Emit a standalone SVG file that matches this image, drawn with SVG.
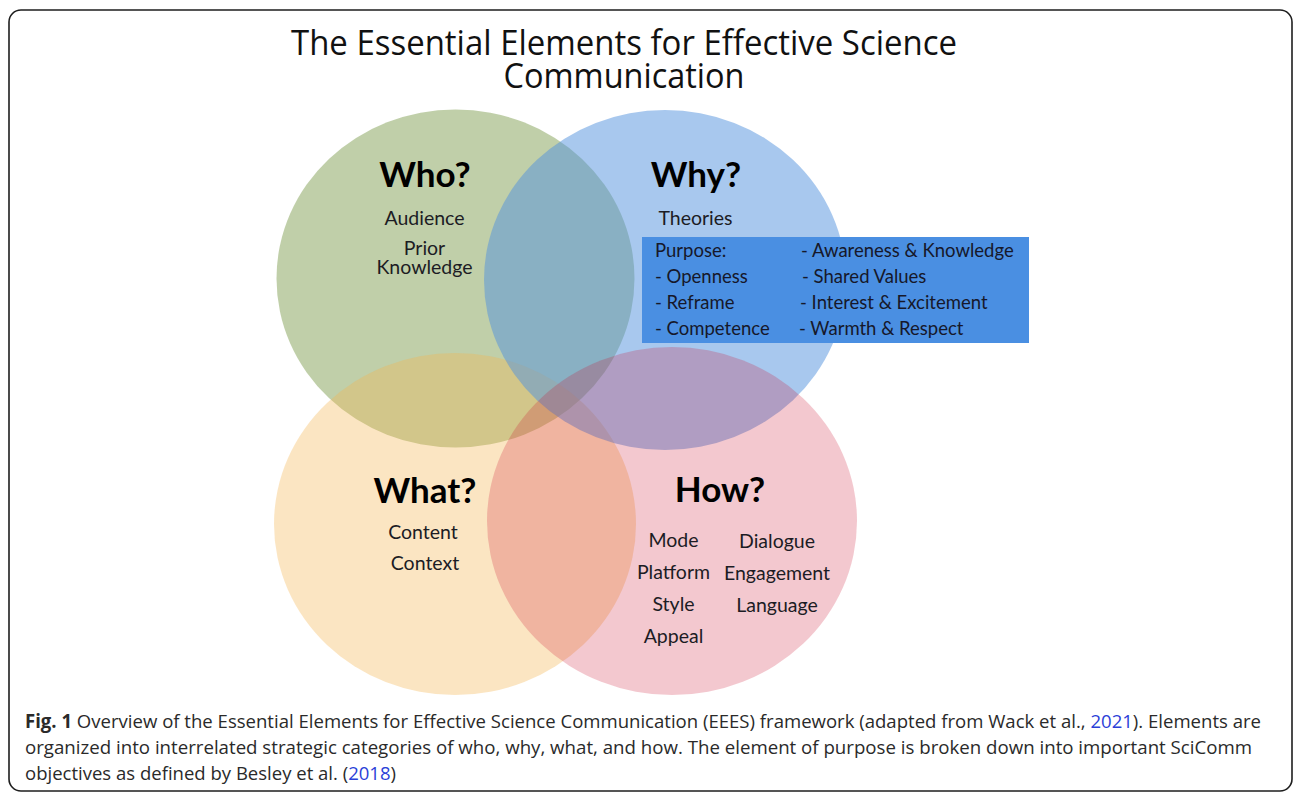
<svg xmlns="http://www.w3.org/2000/svg" width="1296" height="795" viewBox="0 0 1296 795">
<style>
.frame{fill:#fff;stroke:#1e1e1e;stroke-width:1.6}
.title{font-family:"Open Sans","Liberation Sans",sans-serif;font-size:34px;fill:#111;text-anchor:middle}
.head{font-family:Lato,"Open Sans",sans-serif;font-weight:bold;font-size:35px;fill:#000;text-anchor:middle}
.item{font-family:Lato,"Open Sans",sans-serif;font-size:19.5px;fill:#1c1c24;text-anchor:middle}
.box{fill:#4a8fe2}
.btxt{font-family:Lato,"Open Sans",sans-serif;font-size:18.5px;fill:#16182a}
.cap{font-family:"Open Sans","Liberation Sans",sans-serif;font-size:19px;fill:#2a2a2a}
.lnk{fill:#2b3fd8}
</style>
<rect class="frame" x="9" y="10" width="1283" height="781" rx="12"/>
<g id="title">
<text class="title" x="624" y="55" textLength="666" lengthAdjust="spacingAndGlyphs">The Essential Elements for Effective Science</text>
<text class="title" x="624" y="88" textLength="241" lengthAdjust="spacingAndGlyphs">Communication</text>
</g>
<g id="circles">
<ellipse id="who-circle" cx="455.5" cy="278.5" rx="179" ry="169" fill="rgb(129,159,83)" fill-opacity="0.5"/>
<ellipse id="what-circle" cx="455" cy="524" rx="181" ry="171" fill="rgb(244,180,80)" fill-opacity="0.35"/>
<ellipse id="why-circle" cx="665" cy="280" rx="181" ry="170" fill="rgb(81,145,221)" fill-opacity="0.5"/>
<ellipse id="how-circle" cx="672" cy="521" rx="185" ry="174" fill="rgb(203,16,46)" fill-opacity="0.23"/>
</g>
<g id="who">
<text class="head" x="425" y="187">Who?</text>
<text class="item" x="424.5" y="225">Audience</text>
<text class="item" x="424.5" y="255">Prior</text>
<text class="item" x="424.5" y="274">Knowledge</text>
</g>
<g id="why">
<text class="head" x="696" y="187">Why?</text>
<text class="item" x="695.5" y="225">Theories</text>
<rect class="box" x="642" y="237" width="387" height="106"/>
<text class="btxt" x="655" y="257">Purpose:</text>
<text class="btxt" x="655" y="283">- Openness</text>
<text class="btxt" x="655" y="309">- Reframe</text>
<text class="btxt" x="655" y="335">- Competence</text>
<text class="btxt" x="801" y="257">- Awareness &amp; Knowledge</text>
<text class="btxt" x="802" y="283">- Shared Values</text>
<text class="btxt" x="800" y="309">- Interest &amp; Excitement</text>
<text class="btxt" x="799" y="335">- Warmth &amp; Respect</text>
</g>
<g id="what">
<text class="head" x="425" y="503">What?</text>
<text class="item" x="423" y="539">Content</text>
<text class="item" x="425" y="570">Context</text>
</g>
<g id="how">
<text class="head" x="720" y="502">How?</text>
<text class="item" x="673.5" y="547">Mode</text>
<text class="item" x="673.5" y="579">Platform</text>
<text class="item" x="673.5" y="611">Style</text>
<text class="item" x="673.5" y="643">Appeal</text>
<text class="item" x="777" y="548">Dialogue</text>
<text class="item" x="777" y="580">Engagement</text>
<text class="item" x="777" y="612">Language</text>
</g>
<g id="connectors"></g>
<g id="caption">
<text class="cap" x="25" y="728" textLength="1236" lengthAdjust="spacingAndGlyphs"><tspan font-weight="bold">Fig. 1</tspan> Overview of the Essential Elements for Effective Science Communication (EEES) framework (adapted from Wack et al., <tspan class="lnk">2021</tspan>). Elements are</text>
<text class="cap" x="25" y="754" textLength="1227" lengthAdjust="spacingAndGlyphs">organized into interrelated strategic categories of who, why, what, and how. The element of purpose is broken down into important SciComm</text>
<text class="cap" x="25" y="780" textLength="371" lengthAdjust="spacingAndGlyphs">objectives as defined by Besley et al. (<tspan class="lnk">2018</tspan>)</text>
</g>
</svg>
